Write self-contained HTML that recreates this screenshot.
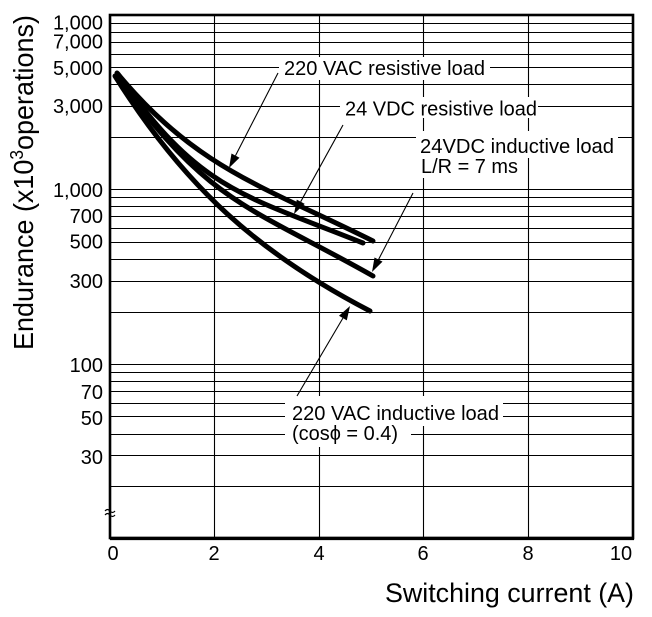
<!DOCTYPE html>
<html>
<head>
<meta charset="utf-8">
<style>
  html,body{margin:0;padding:0;background:#fff;}
  svg{display:block;}
  text{font-family:"Liberation Sans",Arial,sans-serif;fill:#000;}
</style>
</head>
<body>
<svg width="652" height="617" viewBox="0 0 652 617" xmlns="http://www.w3.org/2000/svg">
  <rect x="0" y="0" width="652" height="617" fill="#fff"/>

  <!-- horizontal gridlines -->
  <path fill="none" stroke="#000" stroke-width="1.1" d="M110 23.5H633M110 32.5H633M110 42.5H633M110 54.5H633M110 67.5H633M110 84.5H633M110 106.5H633M110 137.5H633M110 189.5H633M110 197.5H633M110 206.5H633M110 216.5H633M110 228.5H633M110 242.5H633M110 259.5H633M110 281.5H633M110 312.5H633M110 364.5H633M110 372.5H633M110 381.5H633M110 391.5H633M110 403.5H633M110 416.5H633M110 434.5H633M110 455.5H633M110 486.5H633"/>
  <!-- vertical gridlines -->
  <path fill="none" stroke="#000" stroke-width="1.1" d="M214.5 15V538M319.5 15V538M423.5 15V538M528.5 15V538"/>

  <!-- text masks -->
  <rect x="279" y="57" width="211" height="23" fill="#fff"/>
  <rect x="340" y="97" width="198" height="21" fill="#fff"/>
  <rect x="416" y="131" width="202" height="27" fill="#fff"/>
  <rect x="416" y="157" width="105" height="21" fill="#fff"/>
  <rect x="285" y="396" width="218" height="30" fill="#fff"/>
  <rect x="285" y="425" width="126" height="22" fill="#fff"/>

  <!-- frame -->
  <rect x="110" y="15" width="523" height="523" fill="none" stroke="#000" stroke-width="2.6"/>
  <line x1="110" y1="538.5" x2="634" y2="538.5" stroke="#000" stroke-width="3.2"/>

  <!-- axis break mark -->
  <path d="M105 511 q2.5 -3 5 0 t5 0 M105 515 q2.5 -3 5 0 t5 0" fill="none" stroke="#000" stroke-width="1.2"/>

  <!-- curves -->
  <g fill="none" stroke="#000" stroke-width="5" stroke-linecap="round">
    <!-- 220 VAC resistive -->
    <path d="M117,73 C197,169 263,186 373,241"/>
    <!-- 24 VDC resistive -->
    <path d="M118,74 C198,190 243,195 363,243"/>
    <!-- 24 VDC inductive -->
    <path d="M117,75 C205,203 253,208 373,276"/>
    <!-- 220 VAC inductive -->
    <path d="M115,76 C185,188 260,254 370,311"/>
  </g>

  <!-- arrows -->
  <g stroke="#000" stroke-width="1.1" fill="none">
    <line x1="278" y1="73" x2="235.5" y2="155.6"/>
    <line x1="343" y1="125" x2="300.7" y2="201.7"/>
    <line x1="413" y1="193" x2="378.5" y2="259.6"/>
    <line x1="297" y1="396" x2="342.9" y2="318.1"/>
  </g>
  <g fill="#000">
    <polygon points="229,168 239.5,157.7 231.5,153.5"/>
    <polygon points="294,214 304.7,203.9 296.8,199.6"/>
    <polygon points="372,272 382.5,261.6 374.5,257.5"/>
    <polygon points="350,306 346.8,320.4 339,315.8"/>
  </g>

  <!-- annotation labels -->
  <text x="284" y="75" font-size="20" textLength="201" lengthAdjust="spacingAndGlyphs">220 VAC resistive load</text>
  <text x="345" y="115.5" font-size="20" textLength="192" lengthAdjust="spacingAndGlyphs">24 VDC resistive load</text>
  <text x="420" y="153" font-size="20" textLength="194" lengthAdjust="spacingAndGlyphs">24VDC inductive load</text>
  <text x="421" y="173" font-size="20" textLength="97" lengthAdjust="spacingAndGlyphs">L/R = 7 ms</text>
  <text x="292" y="420" font-size="20" textLength="207" lengthAdjust="spacingAndGlyphs">220 VAC inductive load</text>
  <text x="292" y="440" font-size="20" textLength="106" lengthAdjust="spacingAndGlyphs">(cosϕ = 0.4)</text>

  <!-- y tick labels -->
  <g font-size="20" text-anchor="end">
    <text x="103" y="29.5">1,000</text>
    <text x="103" y="48.5">7,000</text>
    <text x="103" y="75">5,000</text>
    <text x="103" y="113">3,000</text>
    <text x="103" y="197">1,000</text>
    <text x="103" y="223">700</text>
    <text x="103" y="248.5">500</text>
    <text x="103" y="288">300</text>
    <text x="103" y="372">100</text>
    <text x="103" y="399">70</text>
    <text x="103" y="425">50</text>
    <text x="103" y="464">30</text>
  </g>

  <!-- x tick labels -->
  <g font-size="20" text-anchor="middle">
    <text x="113" y="560">0</text>
    <text x="214" y="560">2</text>
    <text x="319" y="560">4</text>
    <text x="423" y="560">6</text>
    <text x="528" y="560">8</text>
    <text x="621" y="560">10</text>
  </g>

  <!-- axis titles -->
  <text x="385" y="602" font-size="27" textLength="249" lengthAdjust="spacingAndGlyphs">Switching current (A)</text>
  <text transform="translate(33,350) rotate(-90)" font-size="28" textLength="335" lengthAdjust="spacingAndGlyphs">Endurance (x10<tspan font-size="18" dy="-10">3</tspan><tspan dy="10">operations)</tspan></text>
</svg>
</body>
</html>
